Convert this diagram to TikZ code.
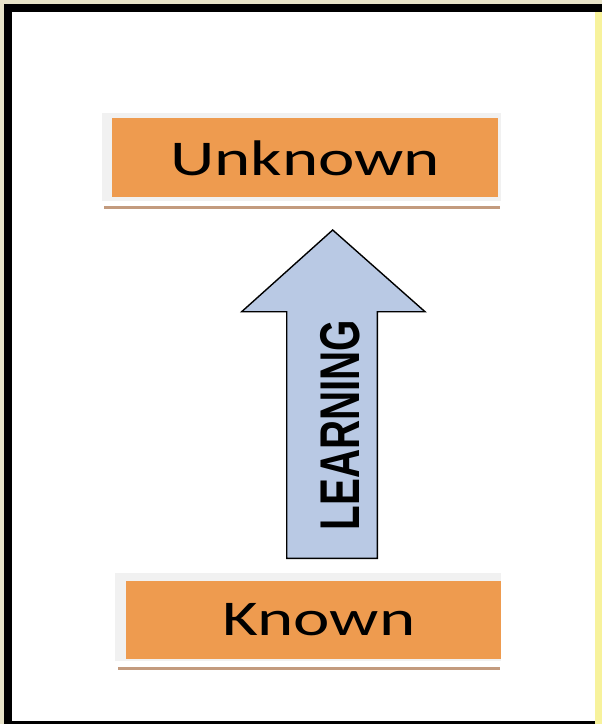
\documentclass[tikz,border=0pt]{standalone}
\usepackage{fontspec}
\usepackage{graphicx}
\setmainfont{Carlito}
\newfontfamily\arrowfont{Liberation Sans}

\definecolor{boxorange}{HTML}{EE9B4F}
\definecolor{boxshade}{HTML}{F1F1F1}
\definecolor{boxline}{HTML}{C39B7E}
\definecolor{arrowblue}{HTML}{B9C9E4}
\definecolor{pagebeige}{HTML}{E8E3C8}
\definecolor{pageyellow}{HTML}{F7F29C}

\tikzset{
  boxtext/.style={anchor=base, inner sep=0pt, font=\fontsize{50}{60}\selectfont},
  learntext/.style={rotate=90, inner sep=0pt, font=\arrowfont\bfseries\fontsize{56}{60}\selectfont}
}

\begin{document}
\begin{tikzpicture}[x=1pt,y=-1pt]

% frame
\fill[pagebeige] (0,0) rectangle (602,724);
\fill[black] (4,4) rectangle (602,724);
\fill[pageyellow] (595,12) rectangle (602,724);
\fill[white] (11.5,12) rectangle (595,721);
\useasboundingbox (0,0) rectangle (602,724);

% unknown box
\fill[boxshade] (102,113) rectangle (501,201);
\fill[boxorange] (112,118) rectangle (498,197);
\draw[boxline, line width=2.5pt] (104,207.5) -- (500,207.5);
\node[boxtext] (unknown) at (305,175.6) {\scalebox{1.38}[1]{Unknown}};

% known box
\fill[boxshade] (115,573) rectangle (501,661);
\fill[boxorange] (126,581) rectangle (501,659);
\draw[boxline, line width=2.5pt] (118,668.5) -- (500,668.5);
\node[boxtext] (known) at (319,635.6) {\scalebox{1.38}[1]{Known}};

% arrow
\draw[fill=arrowblue, line width=1.4pt, line join=miter]
  (286.7,558.3) -- (286.7,311.7) -- (241.7,311.7) -- (332.7,230)
  -- (425,311.7) -- (377.3,311.7) -- (377.3,558.3) -- cycle;
\node[learntext] (learning) at (340,425) {\scalebox{0.72}[1]{LEARNING}};

\end{tikzpicture}
\end{document}
